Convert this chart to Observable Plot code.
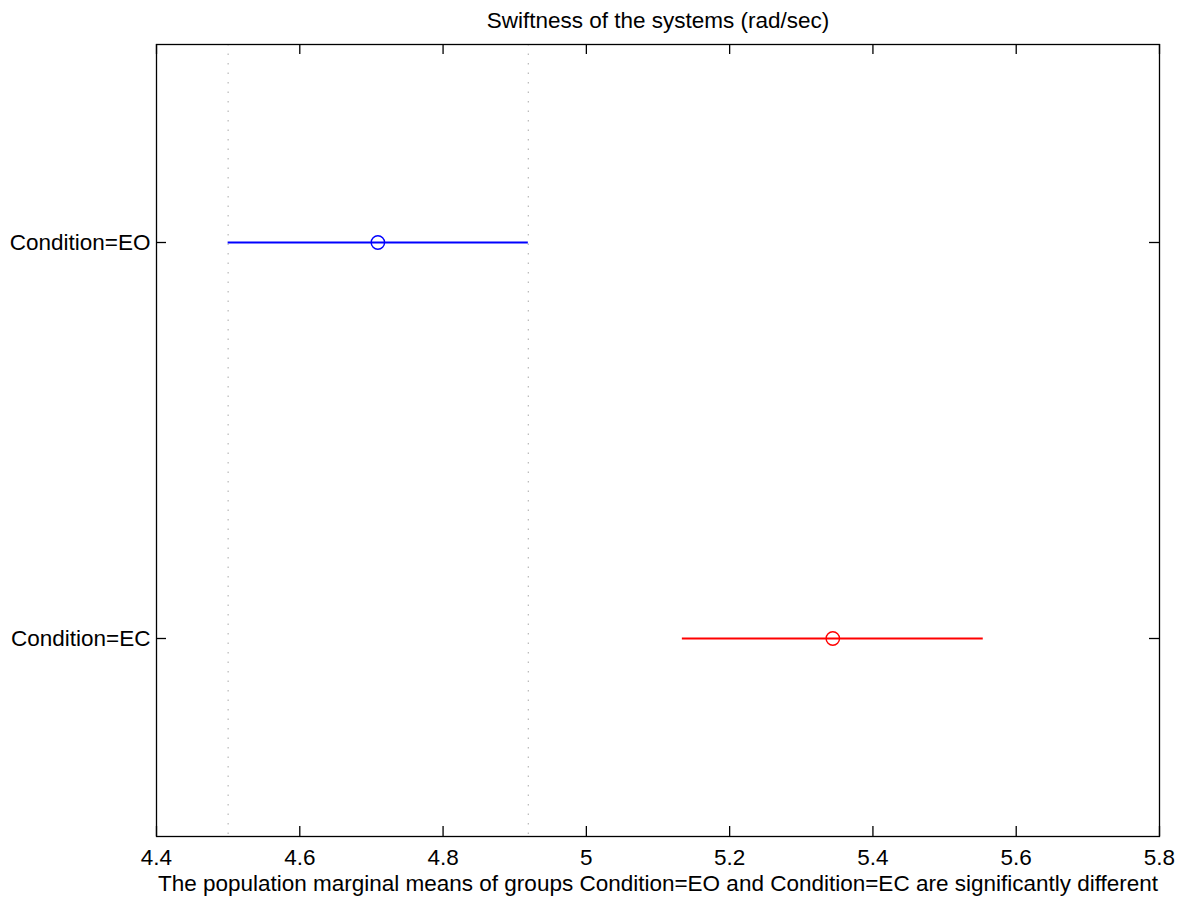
<!DOCTYPE html>
<html>
<head>
<meta charset="utf-8">
<script src="https://cdn.jsdelivr.net/npm/d3@7"></script>
<script src="https://cdn.jsdelivr.net/npm/@observablehq/plot@0.6"></script>
<style>
  html, body { margin: 0; padding: 0; background: #fff; }
  #chart svg { display: block; }
</style>
</head>
<body>
<div id="chart"></div>
<script>
// ---- data ----
const groups = ["Condition=EO", "Condition=EC"];
const groupPos = [2, 1];
const means = [4.709, 5.344];
const lower = [4.5, 5.134];
const upper = [4.919, 5.554];
const colors = ["#0000ff", "#ff0000"];
const xTicks = [4.4, 4.6, 4.8, 5, 5.2, 5.4, 5.6, 5.8];
const yTicks = [1, 2];
const titleText = "Swiftness of the systems (rad/sec)";
const captionText = "The population marginal means of groups Condition=EO and Condition=EC are significantly different";

const rows = groups.map((g, i) => ({
  group: g, pos: groupPos[i], mean: means[i], lo: lower[i], hi: upper[i], color: colors[i]
}));

const W = 1184, H = 901;
const mT = 44, mB = 65, mL = 156, mR = 25;
const frameW = W - mL - mR, frameH = H - mT - mB;
const tickLen = 10;
const fs = 22.5;
const font = "Arial, 'Liberation Sans', Helvetica, sans-serif";

const chart = Plot.plot({
  width: W,
  height: H,
  marginTop: mT,
  marginBottom: mB,
  marginLeft: mL,
  marginRight: mR,
  style: { fontFamily: font, fontSize: fs + "px", color: "#000", background: "#fff" },
  x: { domain: [4.4, 5.8] },
  y: { domain: [0.5, 2.5] },
  color: { type: "identity" },
  marks: [
    // dotted reference lines at the selected group's interval
    Plot.ruleX([lower[0], upper[0]], { stroke: "#b8b8b8", strokeWidth: 1.2, strokeDasharray: "1.5,8" }),
    // comparison intervals
    Plot.ruleY(rows, { y: "pos", x1: "lo", x2: "hi", stroke: "color", strokeWidth: 2 }),
    Plot.dot(rows, { x: "mean", y: "pos", r: 6.7, stroke: "color", fill: "none", strokeWidth: 1.4 }),
    // frame
    Plot.frame({ stroke: "#000", strokeWidth: 1.3 }),
    // inward ticks, bottom and top
    Plot.tickX(xTicks, { x: d => d, insetTop: frameH - tickLen, stroke: "#000", strokeWidth: 1.3 }),
    Plot.tickX(xTicks, { x: d => d, insetBottom: frameH - tickLen, stroke: "#000", strokeWidth: 1.3 }),
    // inward ticks, left and right
    Plot.tickY(yTicks, { y: d => d, insetRight: frameW - tickLen, stroke: "#000", strokeWidth: 1.3 }),
    Plot.tickY(yTicks, { y: d => d, insetLeft: frameW - tickLen, stroke: "#000", strokeWidth: 1.3 }),
    // axis labels
    Plot.axisX({ ticks: xTicks, tickSize: 0, tickPadding: 13, tickFormat: d => String(d), fontSize: fs, label: null }),
    Plot.axisY({ ticks: yTicks, tickSize: 0, tickPadding: 6, tickFormat: d => groups[groupPos.indexOf(d)], fontSize: fs, label: null }),
    // title and caption
    Plot.text([titleText], { text: d => d, frameAnchor: "top", lineAnchor: "bottom", dy: -17, fontSize: fs, fill: "#000" }),
    Plot.text([captionText], { text: d => d, frameAnchor: "bottom", lineAnchor: "top", dy: 39, fontSize: fs, fill: "#000" })
  ]
});

document.getElementById("chart").appendChild(chart);
</script>
</body>
</html>
